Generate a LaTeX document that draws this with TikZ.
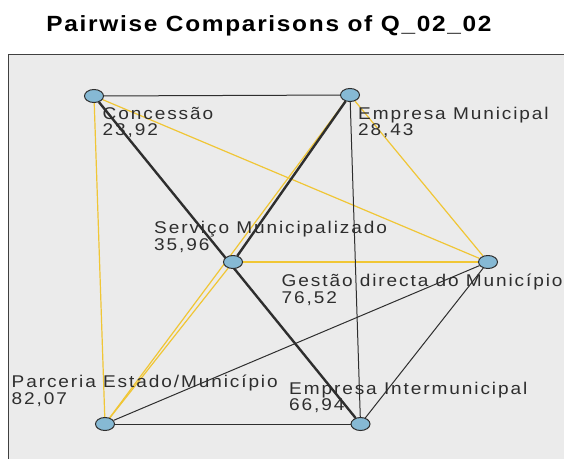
\documentclass[tikz,border=0pt]{standalone}
\usepackage{fontspec}
\usepackage{xcolor}
\usepackage{tikz}
\usetikzlibrary{shapes.geometric,backgrounds,positioning}
\newfontfamily\lblfont[LetterSpace=10]{Liberation Sans}
\newfontfamily\ttlfont[LetterSpace=7]{Liberation Sans}
\definecolor{panelgray}{HTML}{EBEBEB}
\definecolor{linkgold}{HTML}{F0C635}
\definecolor{dotblue}{HTML}{86B9D4}
\definecolor{inkgray}{HTML}{2E2E2E}

\begin{document}
\begin{tikzpicture}[
  x=1pt, y=-1pt,
  dot/.style={draw=inkgray, ellipse, line width=1pt, fill=dotblue, minimum width=19pt, minimum height=13pt, inner sep=0pt},
  lbl/.style={anchor=base west, inner sep=0pt, xscale=1.12, text=inkgray, font=\lblfont\fontsize{17}{19}\selectfont},
  hot/.style={draw=linkgold, line width=1.2pt},
  cold/.style={draw=inkgray, line width=1pt},
  heavy/.style={draw=inkgray, line width=2.4pt}
]
\useasboundingbox (0,0) rectangle (564,458);

\node[font=\ttlfont\bfseries\fontsize{22}{24}\selectfont, anchor=base, xscale=1.11] (title) at (269,31.7) {Pairwise Comparisons of Q\_02\_02};

% the six categories
\node[dot] (conc) at (94,96) {};
\node[dot] (emun) at (350,95) {};
\node[dot] (serv) at (233,262) {};
\node[dot] (gest) at (488,262) {};
\node[dot] (parc) at (105,424) {};
\node[dot] (eint) at (360.5,424) {};

% names and mean ranks
\node[lbl] (concname) at (102.5,119) {Concessão};
\node[lbl] (concval) at (102.5,135.5) {23,92};
\node[lbl] (emunname) at (358,119) {Empresa Municipal};
\node[lbl] (emunval) at (358,135.5) {28,43};
\node[lbl] (servname) at (154,233.5) {Serviço Municipalizado};
\node[lbl] (servval) at (154,250) {35,96};
\node[lbl] (gestname) at (281.5,286.5) {Gestão directa do Município};
\node[lbl] (gestval) at (281.5,303) {76,52};
\node[lbl] (parcname) at (11.5,387.5) {Parceria Estado/Município};
\node[lbl] (parcval) at (11.5,404) {82,07};
\node[lbl] (eintname) at (289,394) {Empresa Intermunicipal};
\node[lbl] (eintval) at (289,410.5) {66,94};

\begin{scope}[on background layer]
  \fill[panelgray] (8.5,54.5) rectangle (570,470);
  \draw[black!75, line width=1.4pt] (8.5,470) -- (8.5,54.5) -- (570,54.5);
  % significant pairs
  \draw[hot] (conc) -- (parc);
  \draw[hot] (conc) -- (gest);
  \draw[hot] (emun) -- (parc);
  \draw[hot] (emun) -- (gest);
  \draw[hot] (serv) -- (gest);
  \draw[hot] (serv) -- (parc);
  % non-significant pairs
  \draw[cold] (conc) -- (emun);
  \draw[heavy] (conc) -- (eint);
  \draw[heavy] (emun) -- (serv);
  \draw[cold] (emun) -- (eint);
  \draw[cold] (gest) -- (parc);
  \draw[cold] (gest) -- (eint);
  \draw[cold] (parc) -- (eint);
\end{scope}
\end{tikzpicture}
\end{document}
